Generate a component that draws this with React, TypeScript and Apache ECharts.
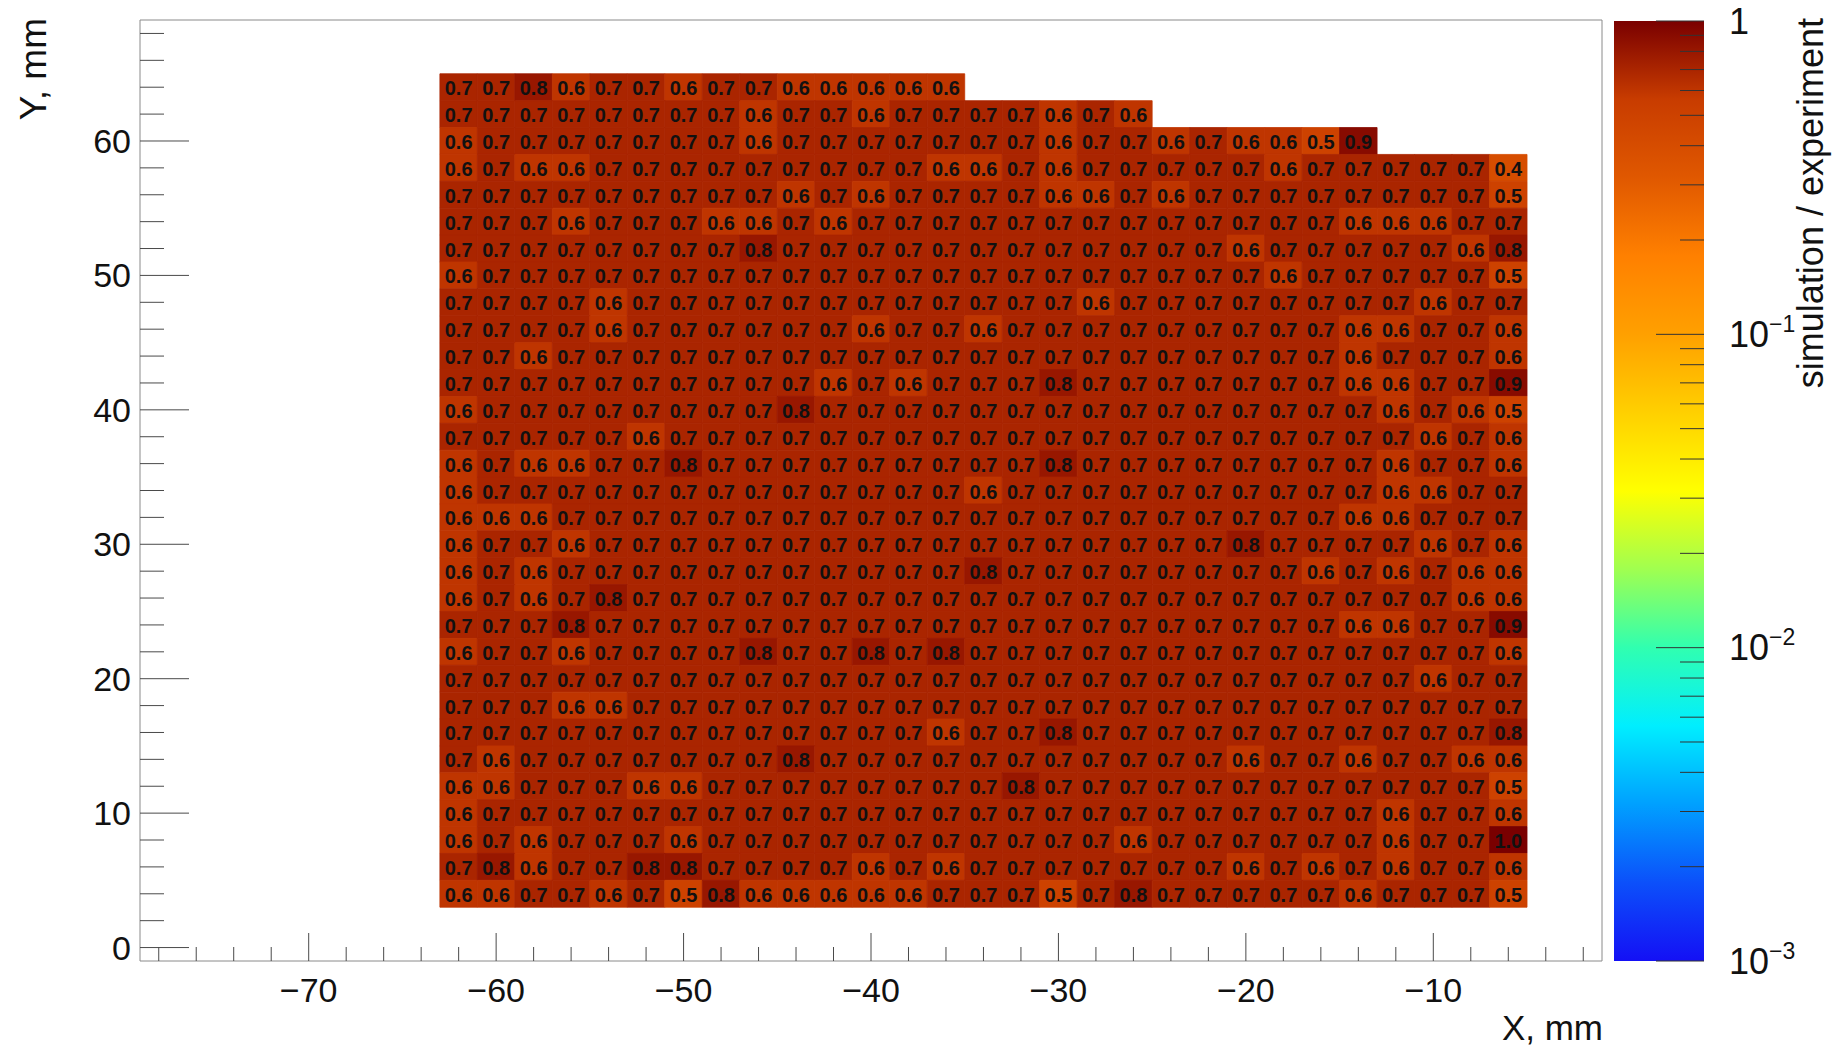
import React, { useEffect, useRef } from "react";
import * as echarts from "echarts";

const FONT = '"Liberation Sans", Arial, Helvetica, sans-serif';

// ---- data (rows from top y=64 down to y=4) ----
const firstBinLeftX = -63; // left edge of first column, mm
const binSize = 2; // mm
const rowCentersY = [64, 62, 60, 58, 56, 54, 52, 50, 48, 46, 44, 42, 40, 38, 36, 34, 32, 30, 28, 26, 24, 22, 20, 18, 16, 14, 12, 10, 8, 6, 4];

const row64 = [0.7, 0.7, 0.8, 0.6, 0.7, 0.7, 0.6, 0.7, 0.7, 0.6, 0.6, 0.6, 0.6, 0.6];
const row62 = [0.7, 0.7, 0.7, 0.7, 0.7, 0.7, 0.7, 0.7, 0.6, 0.7, 0.7, 0.6, 0.7, 0.7, 0.7, 0.7, 0.6, 0.7, 0.6];
const row60 = [0.6, 0.7, 0.7, 0.7, 0.7, 0.7, 0.7, 0.7, 0.6, 0.7, 0.7, 0.7, 0.7, 0.7, 0.7, 0.7, 0.6, 0.7, 0.7, 0.6, 0.7, 0.6, 0.6, 0.5, 0.9];
const row58 = [0.6, 0.7, 0.6, 0.6, 0.7, 0.7, 0.7, 0.7, 0.7, 0.7, 0.7, 0.7, 0.7, 0.6, 0.6, 0.7, 0.6, 0.7, 0.7, 0.7, 0.7, 0.7, 0.6, 0.7, 0.7, 0.7, 0.7, 0.7, 0.4];
const row56 = [0.7, 0.7, 0.7, 0.7, 0.7, 0.7, 0.7, 0.7, 0.7, 0.6, 0.7, 0.6, 0.7, 0.7, 0.7, 0.7, 0.6, 0.6, 0.7, 0.6, 0.7, 0.7, 0.7, 0.7, 0.7, 0.7, 0.7, 0.7, 0.5];
const row54 = [0.7, 0.7, 0.7, 0.6, 0.7, 0.7, 0.7, 0.6, 0.6, 0.7, 0.6, 0.7, 0.7, 0.7, 0.7, 0.7, 0.7, 0.7, 0.7, 0.7, 0.7, 0.7, 0.7, 0.7, 0.6, 0.6, 0.6, 0.7, 0.7];
const row52 = [0.7, 0.7, 0.7, 0.7, 0.7, 0.7, 0.7, 0.7, 0.8, 0.7, 0.7, 0.7, 0.7, 0.7, 0.7, 0.7, 0.7, 0.7, 0.7, 0.7, 0.7, 0.6, 0.7, 0.7, 0.7, 0.7, 0.7, 0.6, 0.8];
const row50 = [0.6, 0.7, 0.7, 0.7, 0.7, 0.7, 0.7, 0.7, 0.7, 0.7, 0.7, 0.7, 0.7, 0.7, 0.7, 0.7, 0.7, 0.7, 0.7, 0.7, 0.7, 0.7, 0.6, 0.7, 0.7, 0.7, 0.7, 0.7, 0.5];
const row48 = [0.7, 0.7, 0.7, 0.7, 0.6, 0.7, 0.7, 0.7, 0.7, 0.7, 0.7, 0.7, 0.7, 0.7, 0.7, 0.7, 0.7, 0.6, 0.7, 0.7, 0.7, 0.7, 0.7, 0.7, 0.7, 0.7, 0.6, 0.7, 0.7];
const row46 = [0.7, 0.7, 0.7, 0.7, 0.6, 0.7, 0.7, 0.7, 0.7, 0.7, 0.7, 0.6, 0.7, 0.7, 0.6, 0.7, 0.7, 0.7, 0.7, 0.7, 0.7, 0.7, 0.7, 0.7, 0.6, 0.6, 0.7, 0.7, 0.6];
const row44 = [0.7, 0.7, 0.6, 0.7, 0.7, 0.7, 0.7, 0.7, 0.7, 0.7, 0.7, 0.7, 0.7, 0.7, 0.7, 0.7, 0.7, 0.7, 0.7, 0.7, 0.7, 0.7, 0.7, 0.7, 0.6, 0.7, 0.7, 0.7, 0.6];
const row42 = [0.7, 0.7, 0.7, 0.7, 0.7, 0.7, 0.7, 0.7, 0.7, 0.7, 0.6, 0.7, 0.6, 0.7, 0.7, 0.7, 0.8, 0.7, 0.7, 0.7, 0.7, 0.7, 0.7, 0.7, 0.6, 0.6, 0.7, 0.7, 0.9];
const row40 = [0.6, 0.7, 0.7, 0.7, 0.7, 0.7, 0.7, 0.7, 0.7, 0.8, 0.7, 0.7, 0.7, 0.7, 0.7, 0.7, 0.7, 0.7, 0.7, 0.7, 0.7, 0.7, 0.7, 0.7, 0.7, 0.6, 0.7, 0.6, 0.5];
const row38 = [0.7, 0.7, 0.7, 0.7, 0.7, 0.6, 0.7, 0.7, 0.7, 0.7, 0.7, 0.7, 0.7, 0.7, 0.7, 0.7, 0.7, 0.7, 0.7, 0.7, 0.7, 0.7, 0.7, 0.7, 0.7, 0.7, 0.6, 0.7, 0.6];
const row36 = [0.6, 0.7, 0.6, 0.6, 0.7, 0.7, 0.8, 0.7, 0.7, 0.7, 0.7, 0.7, 0.7, 0.7, 0.7, 0.7, 0.8, 0.7, 0.7, 0.7, 0.7, 0.7, 0.7, 0.7, 0.7, 0.6, 0.7, 0.7, 0.6];
const row34 = [0.6, 0.7, 0.7, 0.7, 0.7, 0.7, 0.7, 0.7, 0.7, 0.7, 0.7, 0.7, 0.7, 0.7, 0.6, 0.7, 0.7, 0.7, 0.7, 0.7, 0.7, 0.7, 0.7, 0.7, 0.7, 0.6, 0.6, 0.7, 0.7];
const row32 = [0.6, 0.6, 0.6, 0.7, 0.7, 0.7, 0.7, 0.7, 0.7, 0.7, 0.7, 0.7, 0.7, 0.7, 0.7, 0.7, 0.7, 0.7, 0.7, 0.7, 0.7, 0.7, 0.7, 0.7, 0.6, 0.6, 0.7, 0.7, 0.7];
const row30 = [0.6, 0.7, 0.7, 0.6, 0.7, 0.7, 0.7, 0.7, 0.7, 0.7, 0.7, 0.7, 0.7, 0.7, 0.7, 0.7, 0.7, 0.7, 0.7, 0.7, 0.7, 0.8, 0.7, 0.7, 0.7, 0.7, 0.6, 0.7, 0.6];
const row28 = [0.6, 0.7, 0.6, 0.7, 0.7, 0.7, 0.7, 0.7, 0.7, 0.7, 0.7, 0.7, 0.7, 0.7, 0.8, 0.7, 0.7, 0.7, 0.7, 0.7, 0.7, 0.7, 0.7, 0.6, 0.7, 0.6, 0.7, 0.6, 0.6];
const row26 = [0.6, 0.7, 0.6, 0.7, 0.8, 0.7, 0.7, 0.7, 0.7, 0.7, 0.7, 0.7, 0.7, 0.7, 0.7, 0.7, 0.7, 0.7, 0.7, 0.7, 0.7, 0.7, 0.7, 0.7, 0.7, 0.7, 0.7, 0.6, 0.6];
const row24 = [0.7, 0.7, 0.7, 0.8, 0.7, 0.7, 0.7, 0.7, 0.7, 0.7, 0.7, 0.7, 0.7, 0.7, 0.7, 0.7, 0.7, 0.7, 0.7, 0.7, 0.7, 0.7, 0.7, 0.7, 0.6, 0.6, 0.7, 0.7, 0.9];
const row22 = [0.6, 0.7, 0.7, 0.6, 0.7, 0.7, 0.7, 0.7, 0.8, 0.7, 0.7, 0.8, 0.7, 0.8, 0.7, 0.7, 0.7, 0.7, 0.7, 0.7, 0.7, 0.7, 0.7, 0.7, 0.7, 0.7, 0.7, 0.7, 0.6];
const row20 = [0.7, 0.7, 0.7, 0.7, 0.7, 0.7, 0.7, 0.7, 0.7, 0.7, 0.7, 0.7, 0.7, 0.7, 0.7, 0.7, 0.7, 0.7, 0.7, 0.7, 0.7, 0.7, 0.7, 0.7, 0.7, 0.7, 0.6, 0.7, 0.7];
const row18 = [0.7, 0.7, 0.7, 0.6, 0.6, 0.7, 0.7, 0.7, 0.7, 0.7, 0.7, 0.7, 0.7, 0.7, 0.7, 0.7, 0.7, 0.7, 0.7, 0.7, 0.7, 0.7, 0.7, 0.7, 0.7, 0.7, 0.7, 0.7, 0.7];
const row16 = [0.7, 0.7, 0.7, 0.7, 0.7, 0.7, 0.7, 0.7, 0.7, 0.7, 0.7, 0.7, 0.7, 0.6, 0.7, 0.7, 0.8, 0.7, 0.7, 0.7, 0.7, 0.7, 0.7, 0.7, 0.7, 0.7, 0.7, 0.7, 0.8];
const row14 = [0.7, 0.6, 0.7, 0.7, 0.7, 0.7, 0.7, 0.7, 0.7, 0.8, 0.7, 0.7, 0.7, 0.7, 0.7, 0.7, 0.7, 0.7, 0.7, 0.7, 0.7, 0.6, 0.7, 0.7, 0.6, 0.7, 0.7, 0.6, 0.6];
const row12 = [0.6, 0.6, 0.7, 0.7, 0.7, 0.6, 0.6, 0.7, 0.7, 0.7, 0.7, 0.7, 0.7, 0.7, 0.7, 0.8, 0.7, 0.7, 0.7, 0.7, 0.7, 0.7, 0.7, 0.7, 0.7, 0.7, 0.7, 0.7, 0.5];
const row10 = [0.6, 0.7, 0.7, 0.7, 0.7, 0.7, 0.7, 0.7, 0.7, 0.7, 0.7, 0.7, 0.7, 0.7, 0.7, 0.7, 0.7, 0.7, 0.7, 0.7, 0.7, 0.7, 0.7, 0.7, 0.7, 0.6, 0.7, 0.7, 0.6];
const row8 = [0.6, 0.7, 0.6, 0.7, 0.7, 0.7, 0.6, 0.7, 0.7, 0.7, 0.7, 0.7, 0.7, 0.7, 0.7, 0.7, 0.7, 0.7, 0.6, 0.7, 0.7, 0.7, 0.7, 0.7, 0.7, 0.6, 0.7, 0.7, 1.0];
const row6 = [0.7, 0.8, 0.6, 0.7, 0.7, 0.8, 0.8, 0.7, 0.7, 0.7, 0.7, 0.6, 0.7, 0.6, 0.7, 0.7, 0.7, 0.7, 0.7, 0.7, 0.7, 0.6, 0.7, 0.6, 0.7, 0.6, 0.7, 0.7, 0.6];
const row4 = [0.6, 0.6, 0.7, 0.7, 0.6, 0.7, 0.5, 0.8, 0.6, 0.6, 0.6, 0.6, 0.6, 0.7, 0.7, 0.7, 0.5, 0.7, 0.8, 0.7, 0.7, 0.7, 0.7, 0.7, 0.6, 0.7, 0.7, 0.7, 0.5];

const rows = [row64, row62, row60, row58, row56, row54, row52, row50, row48, row46, row44, row42, row40, row38, row36, row34, row32, row30, row28, row26, row24, row22, row20, row18, row16, row14, row12, row10, row8, row6, row4];

// axes
const xRange = [-79, -1];
const yRange = [-1, 69];
const xTickLabels = [-70, -60, -50, -40, -30, -20, -10];
const yTickLabels = [0, 10, 20, 30, 40, 50, 60];
const zRangeLog = [-3, 0]; // colour axis 1e-3 .. 1
const zDecades = [-3, -2, -1, 0];

// ROOT-like rainbow palette (bottom -> top)
const palette = [
  "#1410f5", "#0c50fa", "#00a0ff", "#00eeff", "#30ffb0", "#a0ff50", "#ffff00",
  "#ffd000", "#ffa000", "#ff8000", "#e05800", "#c83c00", "#7a0000",
];

function buildCells() {
  const out: number[][] = [];
  rows.forEach((row, r) => {
    row.forEach((v, i) => {
      const x = firstBinLeftX + binSize * (i + 0.5);
      out.push([x, rowCentersY[r], Math.log10(v), v]);
    });
  });
  return out;
}

function minorTicks(lo: number, hi: number, step: number, major: number) {
  const out: number[] = [];
  for (let v = lo; v <= hi; v += step) if (v % major !== 0) out.push(v);
  return out;
}

const App: React.FC = () => {
  const ref = useRef<HTMLDivElement>(null);

  useEffect(() => {
    if (!ref.current) return;
    const chart = echarts.init(ref.current, undefined, { renderer: "svg" });

    const cells = buildCells();
    const xMinor = minorTicks(-78, -2, 2, 10);
    const yMinor = minorTicks(2, 68, 2, 10);
    const zTickData: number[][] = zDecades.map((d) => [1, d, 48]);
    for (let d = zRangeLog[0]; d < zRangeLog[1]; d++) {
      for (let k = 2; k <= 9; k++) zTickData.push([1, d + Math.log10(k), 24]);
    }

    const xTickData = [
      ...xTickLabels.map((v) => [v, yRange[0], 28]),
      ...xMinor.map((v) => [v, yRange[0], 14]),
    ];
    const yTickData = [
      ...yTickLabels.map((v) => [xRange[0], v, 49]),
      ...yMinor.map((v) => [xRange[0], v, 24]),
    ];

    const minus = (v: number) => String(v).replace("-", "\u2212");
    const tickColor = "#4a4a4a";

    const option: any = {
      animation: false,
      backgroundColor: "#ffffff",
      textStyle: { fontFamily: FONT },
      grid: [
        {
          left: 140, top: 20, width: 1462, height: 941,
          show: true, borderColor: "#8a8a8a", borderWidth: 1, backgroundColor: "transparent",
        },
        { left: 1614, top: 21, width: 90, height: 940, show: false },
      ],
      xAxis: [
        {
          type: "value", gridIndex: 0, min: xRange[0], max: xRange[1], splitNumber: 8,
          axisLine: { show: false }, axisTick: { show: false }, splitLine: { show: false },
          axisLabel: {
            customValues: xTickLabels,
            margin: 12, fontSize: 34, fontFamily: FONT, color: "#111",
            formatter: (v: number) => (v % 10 === 0 ? minus(v) : ""),
          },
        },
        { type: "value", gridIndex: 1, min: 0, max: 1, show: false },
      ],
      yAxis: [
        {
          type: "value", gridIndex: 0, min: yRange[0], max: yRange[1], splitNumber: 7,
          axisLine: { show: false }, axisTick: { show: false }, splitLine: { show: false },
          axisLabel: {
            customValues: yTickLabels,
            margin: 9, fontSize: 34, fontFamily: FONT, color: "#111",
            formatter: (v: number) => (v % 10 === 0 ? minus(v) : ""),
          },
        },
        {
          type: "value", gridIndex: 1, min: zRangeLog[0], max: zRangeLog[1], interval: 1,
          position: "right",
          axisLine: { show: false },
          axisTick: { show: false },
          splitLine: { show: false },
          axisLabel: {
            margin: 25,
            formatter: (v: number) => (v === 0 ? "{b|1}" : `{b|10}{s|\u2212${-v}}`),
            rich: {
              b: { fontSize: 36, fontFamily: FONT, color: "#111", lineHeight: 44 },
              s: { fontSize: 23, fontFamily: FONT, color: "#111", lineHeight: 23, verticalAlign: "top" },
            },
          },
        },
      ],
      visualMap: {
        type: "continuous", show: false, seriesIndex: 0, dimension: 2,
        min: zRangeLog[0], max: zRangeLog[1],
        inRange: { color: palette },
      },
      series: [
        {
          type: "custom", name: "ratio", xAxisIndex: 0, yAxisIndex: 0,
          encode: { x: 0, y: 1 },
          data: cells,
          renderItem: (params: any, api: any) => {
            const x = api.value(0);
            const y = api.value(1);
            const p0 = api.coord([x - binSize / 2, y + binSize / 2]);
            const p1 = api.coord([x + binSize / 2, y - binSize / 2]);
            const color = api.visual("color");
            return {
              type: "group",
              children: [
                {
                  type: "rect",
                  shape: { x: p0[0], y: p0[1], width: p1[0] - p0[0], height: p1[1] - p0[1] },
                  style: { fill: color, stroke: color, lineWidth: 0.8 },
                },
                {
                  type: "text",
                  x: (p0[0] + p1[0]) / 2,
                  y: (p0[1] + p1[1]) / 2 + 1,
                  style: {
                    text: Number(api.value(3)).toFixed(1),
                    align: "center", verticalAlign: "middle",
                    font: `bold 20px ${FONT}`, fill: "#111",
                  },
                },
              ],
            };
          },
        },
        {
          type: "custom", name: "colorbar", xAxisIndex: 1, yAxisIndex: 1, silent: true,
          data: [[0, zRangeLog[0]]],
          renderItem: (params: any, api: any) => {
            const a = api.coord([0, zRangeLog[1]]);
            const b = api.coord([1, zRangeLog[0]]);
            return {
              type: "rect",
              shape: { x: a[0], y: a[1], width: b[0] - a[0], height: b[1] - a[1] },
              style: {
                fill: new echarts.graphic.LinearGradient(
                  0, 1, 0, 0,
                  palette.map((c, i) => ({ offset: i / (palette.length - 1), color: c }))
                ),
              },
            };
          },
        },
        {
          type: "custom", name: "zTicks", xAxisIndex: 1, yAxisIndex: 1, silent: true, z: 5,
          data: zTickData,
          renderItem: (params: any, api: any) => {
            const p = api.coord([1, api.value(1)]);
            return {
              type: "line",
              shape: { x1: p[0], y1: p[1], x2: p[0] - api.value(2), y2: p[1] },
              style: { stroke: "#333", lineWidth: 1 },
            };
          },
        },
        {
          type: "custom", name: "xTicks", xAxisIndex: 0, yAxisIndex: 0, silent: true, clip: false, z: 5,
          encode: { x: 0, y: 1 },
          data: xTickData,
          renderItem: (params: any, api: any) => {
            const p = api.coord([api.value(0), api.value(1)]);
            return {
              type: "line",
              shape: { x1: p[0], y1: p[1], x2: p[0], y2: p[1] - api.value(2) },
              style: { stroke: tickColor, lineWidth: 1 },
            };
          },
        },
        {
          type: "custom", name: "yTicks", xAxisIndex: 0, yAxisIndex: 0, silent: true, clip: false, z: 5,
          encode: { x: 0, y: 1 },
          data: yTickData,
          renderItem: (params: any, api: any) => {
            const p = api.coord([api.value(0), api.value(1)]);
            return {
              type: "line",
              shape: { x1: p[0], y1: p[1], x2: p[0] + api.value(2), y2: p[1] },
              style: { stroke: tickColor, lineWidth: 1 },
            };
          },
        },
      ],
      graphic: [
        {
          type: "text", x: 1603, y: 1027,
          style: { text: "X, mm", font: `35px ${FONT}`, fill: "#111", align: "right", verticalAlign: "middle" },
        },
        {
          type: "text", x: 33, y: 18, rotation: Math.PI / 2,
          style: { text: "Y, mm", font: `37px ${FONT}`, fill: "#111", align: "right", verticalAlign: "middle" },
        },
        {
          type: "text", x: 1810, y: 18, rotation: Math.PI / 2,
          style: { text: "simulation / experiment", font: `36px ${FONT}`, fill: "#111", align: "right", verticalAlign: "middle" },
        },
      ],
    };

    chart.setOption(option);
    return () => chart.dispose();
  }, []);

  return (
    <div
      ref={ref}
      style={{ position: "absolute", left: 0, top: 0, width: 1834, height: 1045, background: "#fff" }}
    />
  );
};

export default App;
